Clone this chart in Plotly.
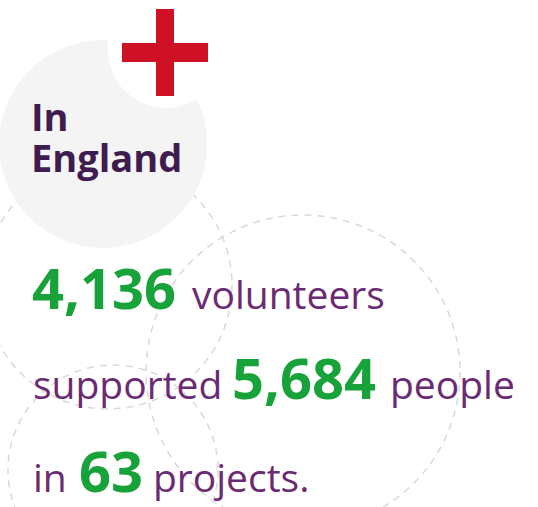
import plotly.graph_objects as go

# ---- data ----
region = "England"
volunteers = 4136
people = 5684
projects = 63
line_words = ["volunteers", "supported", "people", "in", "projects."]

W, H = 538, 507
PURPLE_DARK = "#3f1c50"
PURPLE = "#6b2b74"
GREEN = "#18a23a"
RED = "#cf1126"
DASH_GREY = "#d9d9d9"
FONT = "Open Sans"

fig = go.Figure()

shapes = []
# dashed decorative circles (cx, cy, r)
for cx, cy, r in [(303, 372, 157), (108, 285, 124), (113, 470, 105)]:
    shapes.append(dict(type="circle", x0=cx - r, x1=cx + r, y0=cy - r, y1=cy + r,
                       line=dict(color=DASH_GREY, width=1.5, dash="7px,6px"),
                       fillcolor="rgba(0,0,0,0)", layer="above"))
# grey disc
cx, cy, r = 103, 144, 104
shapes.append(dict(type="circle", x0=cx - r, x1=cx + r, y0=cy - r, y1=cy + r,
                   line=dict(width=0), fillcolor="#f4f4f4", layer="above"))
# white cutout disc
cx, cy, r = 166, 50, 58
shapes.append(dict(type="circle", x0=cx - r, x1=cx + r, y0=cy - r, y1=cy + r,
                   line=dict(width=0), fillcolor="#ffffff", layer="above"))
# red cross
shapes.append(dict(type="rect", x0=156, x1=174, y0=9, y1=96, line=dict(width=0),
                   fillcolor=RED, layer="above"))
shapes.append(dict(type="rect", x0=122, x1=208, y0=43, y1=62, line=dict(width=0),
                   fillcolor=RED, layer="above"))

def ann(x, baseline, text, size, color, bold=False, k=0.35):
    ypix = baseline + k * size
    return dict(x=x / W, y=1 - ypix / H, xref="paper", yref="paper",
                text=f"<b>{text}</b>" if bold else text,
                showarrow=False, xanchor="left", yanchor="bottom",
                font=dict(family=FONT, size=size, color=color), borderpad=0)

NUM = 56
WORD = 39
TITLE = 38
annotations = [
    ann(30, 130, "In", TITLE, PURPLE_DARK, True, 0.33),
    ann(30, 171, region, TITLE, PURPLE_DARK, True, 0.33),
    ann(31, 307, f"{volunteers:,}", NUM, GREEN, True, 0.345),
    ann(191, 307, line_words[0], WORD, PURPLE, False, 0.37),
    ann(32, 397, line_words[1], WORD, PURPLE, False, 0.37),
    ann(231, 397, f"{people:,}", NUM, GREEN, True, 0.345),
    ann(389, 397, line_words[2], WORD, PURPLE, False, 0.37),
    ann(32, 490, line_words[3], WORD, PURPLE, False, 0.37),
    ann(78, 490, f"{projects}", NUM, GREEN, True, 0.345),
    ann(152, 490, line_words[4], WORD, PURPLE, False, 0.37),
]

fig.update_layout(
    width=W, height=H, margin=dict(l=0, r=0, t=0, b=0),
    paper_bgcolor="white", plot_bgcolor="white",
    xaxis=dict(range=[0, W], visible=False, fixedrange=True),
    yaxis=dict(range=[H, 0], visible=False, fixedrange=True),
    shapes=shapes, annotations=annotations, showlegend=False,
)
fig.write_html("out.html", config={"displayModeBar": False},
               post_script="document.body.style.margin='0px';document.body.style.overflow='hidden';")
